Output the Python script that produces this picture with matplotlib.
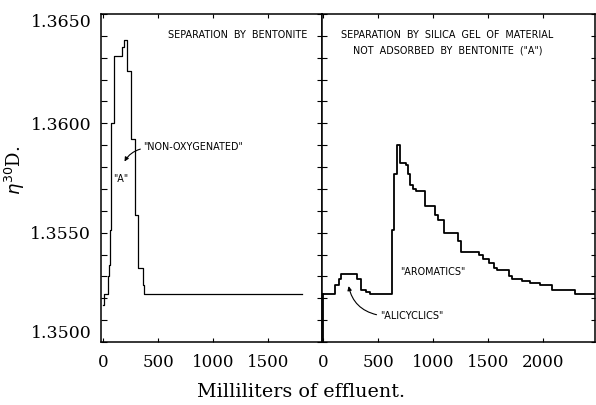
import numpy as np
import matplotlib
matplotlib.use("Agg")
import matplotlib.pyplot as plt
from matplotlib.ticker import MultipleLocator, FixedLocator

# ---------- step data ----------
# left: separation by bentonite (ml of effluent, refractive index)
left_ml = [0, 4, 43, 56, 64, 74, 94, 173, 191, 218, 255, 286, 318, 364, 373, 1810]
left_n = [1.3517, 1.3522, 1.3530, 1.3535, 1.3551, 1.3600, 1.3631, 1.3635, 1.3638,
          1.3624, 1.3593, 1.3558, 1.3534, 1.3526, 1.3522, 1.3522]

# right: silica gel separation of fraction "A"
right_ml = [0, 109, 141, 161, 306, 345, 388, 427, 625, 645, 670, 700, 755, 773, 791,
            821, 845, 927, 1018, 1048, 1100, 1223, 1255, 1412, 1457, 1503, 1548, 1579,
            1685, 1715, 1806, 1882, 1973, 2079, 2185, 2291, 2480]
right_n = [1.3522, 1.3526, 1.3529, 1.3531, 1.3529, 1.3524, 1.3523, 1.3522, 1.3551,
           1.3577, 1.3590, 1.3582, 1.3581, 1.3577, 1.3572, 1.3570, 1.3569, 1.3562,
           1.3558, 1.3556, 1.3550, 1.3546, 1.3541, 1.3540, 1.3538, 1.3536, 1.3534,
           1.3533, 1.3530, 1.3529, 1.3528, 1.3527, 1.3526, 1.3524, 1.3524, 1.3522, 1.3522]

left_xticks = [0, 500, 1000, 1500]
right_xticks = [0, 500, 1000, 1500, 2000]
y_labels = [1.3500, 1.3550, 1.3600, 1.3650]

SERIF = "DejaVu Serif"
plt.rcParams["font.family"] = SERIF

fig = plt.figure(figsize=(5.96, 4.05), dpi=100)
axL = fig.add_axes([0.1695, 0.1556, 0.3708, 0.8099])
axR = fig.add_axes([0.5403, 0.1556, 0.4580, 0.8099])

axL.step(left_ml, left_n, where="post", color="black", lw=0.9)
axR.step(right_ml, right_n, where="post", color="black", lw=1.3)
axR.plot([right_ml[0], right_ml[0]], [1.3500, right_n[0]], color="black", lw=1.3)

for ax in (axL, axR):
    ax.set_ylim(1.3500, 1.3650)
    ax.yaxis.set_minor_locator(MultipleLocator(0.001))
    ax.yaxis.set_major_locator(FixedLocator(y_labels))
    for s in ax.spines.values():
        s.set_linewidth(1.1)
    ax.tick_params(axis="x", which="both", direction="in", length=3, width=0.8,
                   top=True, labelsize=12, pad=9)

axL.set_xlim(-20, 1990)
axR.set_xlim(-10, 2470)
axL.set_xticks(left_xticks)
axR.set_xticks(right_xticks)

axL.tick_params(axis="y", which="both", direction="in", length=4, width=0.8,
                right=False, labelsize=12.5, pad=7)
axL.set_yticklabels([f"{v:.4f}" for v in y_labels])
tl = axL.get_yticklabels()
tl[0].set_va("bottom")
tl[-1].set_va("top")

axR.tick_params(axis="y", which="both", direction="inout", length=7, width=0.8,
                labelleft=False)
axR2 = axR.twinx()
axR2.set_ylim(axR.get_ylim())
axR2.yaxis.set_minor_locator(MultipleLocator(0.001))
axR2.yaxis.set_major_locator(MultipleLocator(0.005))
axR2.tick_params(axis="y", which="both", direction="in", length=3, width=0.8,
                 labelright=False)
for s in axR2.spines.values():
    s.set_visible(False)

# ---------- annotations ----------
small = dict(family="DejaVu Sans", fontsize=6.9, color="black")

axL.text(0.62, 0.935, "SEPARATION  BY  BENTONITE", transform=axL.transAxes,
         ha="center", va="center", **small)
axL.text(364, 1.35891, '"NON-OXYGENATED"', ha="left", va="center", **small)
axL.text(155, 1.35745, '"A"', ha="center", va="center", **small)
axL.annotate("", xy=(182, 1.35814), xytext=(362, 1.35885),
             arrowprops=dict(arrowstyle="-|>", color="black", lw=0.8,
                             mutation_scale=6, connectionstyle="arc3,rad=0.25"))

axR.text(0.46, 0.935, "SEPARATION  BY  SILICA  GEL  OF  MATERIAL",
         transform=axR.transAxes, ha="center", va="center", **small)
axR.text(0.46, 0.89, 'NOT  ADSORBED  BY  BENTONITE  ("A")',
         transform=axR.transAxes, ha="center", va="center", **small)
axR.text(700, 1.35318, '"AROMATICS"', ha="left", va="center", **small)
axR.text(518, 1.35118, '"ALICYCLICS"', ha="left", va="center", **small)
axR.annotate("", xy=(227, 1.35268), xytext=(510, 1.35122),
             arrowprops=dict(arrowstyle="-|>", color="black", lw=0.8,
                             mutation_scale=6, connectionstyle="arc3,rad=-0.35"))

fig.text(0.025, 1 - 170 / 405, r"$\eta^{30}$D.", rotation=90, ha="center",
         va="center", fontsize=13, family=SERIF)
fig.text(0.505, 1 - 392 / 405, "Milliliters of effluent.", ha="center",
         va="center", fontsize=13.8, family=SERIF)

fig.savefig("out.png", dpi=100)
